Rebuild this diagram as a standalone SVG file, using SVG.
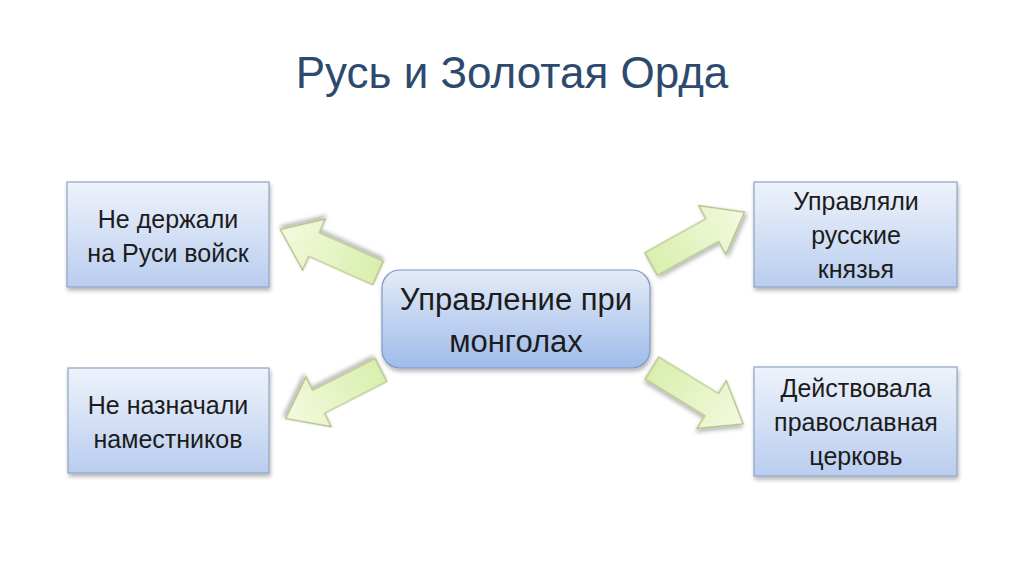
<svg xmlns="http://www.w3.org/2000/svg" width="1024" height="574" viewBox="0 0 1024 574">
<defs>
<linearGradient id="boxg" x1="0" y1="0" x2="0" y2="1">
<stop offset="0" stop-color="#eef3fb"/>
<stop offset="1" stop-color="#b9cdef"/>
</linearGradient>
<linearGradient id="cg" x1="0" y1="0" x2="0" y2="1">
<stop offset="0" stop-color="#e3ebf8"/>
<stop offset="1" stop-color="#9fbbea"/>
</linearGradient>
<linearGradient id="ag" x1="0" y1="0" x2="1" y2="0">
<stop offset="0" stop-color="#d9efae"/>
<stop offset="1" stop-color="#f3fadf"/>
</linearGradient>
<filter id="sh" x="-10%" y="-10%" width="120%" height="130%">
<feGaussianBlur in="SourceAlpha" stdDeviation="2"/>
<feOffset dx="1" dy="3"/>
<feComponentTransfer><feFuncA type="linear" slope="0.3"/></feComponentTransfer>
<feMerge><feMergeNode/><feMergeNode in="SourceGraphic"/></feMerge>
</filter>
<path id="arr" d="M0,-13 L70,-13 L70,-28 L107,0 L70,28 L70,13 L0,13 Z"/>
</defs>
<style>
.box{fill:url(#boxg);stroke:#8fa3c3;stroke-width:1.2;filter:url(#sh)}
.cbox{fill:url(#cg);stroke:#7f98c4;stroke-width:1.2;filter:url(#sh)}
.t{font-family:"Liberation Sans","Open Sans",sans-serif;font-size:25px;fill:#1c1c1c;text-anchor:middle}
.ct{font-family:"Liberation Sans","Open Sans",sans-serif;font-size:31px;fill:#1c1c1c;text-anchor:middle}
.title{font-family:"Liberation Sans","Open Sans",sans-serif;font-size:44px;fill:#2d4a6e;text-anchor:middle}
.a{fill:url(#ag);stroke:#aab978;stroke-width:1.2;filter:url(#sh)}
</style>
<rect width="1024" height="574" fill="#ffffff"/>
<text class="title" x="512" y="88">Русь и Золотая Орда</text>
<g id="connectors">
<use href="#arr" class="a" transform="translate(378,273) rotate(204)"/>
<use href="#arr" class="a" transform="translate(651,264) rotate(-29)"/>
<use href="#arr" class="a" transform="translate(381,370) rotate(153)"/>
<use href="#arr" class="a" transform="translate(652,368) rotate(31.5)"/>
</g>
<g id="center">
<rect class="cbox" x="382" y="270" width="268" height="98" rx="18"/>
<text class="ct" x="516" y="310">Управление при</text>
<text class="ct" x="516" y="352">монголах</text>
</g>
<g id="n1">
<rect class="box" x="67" y="182" width="202" height="105"/>
<text class="t" x="168" y="228">Не держали</text>
<text class="t" x="168" y="262">на Руси войск</text>
</g>
<g id="n2">
<rect class="box" x="68" y="368" width="201" height="105"/>
<text class="t" x="168" y="414">Не назначали</text>
<text class="t" x="168" y="448">наместников</text>
</g>
<g id="n3">
<rect class="box" x="754" y="182" width="203" height="105"/>
<text class="t" x="856" y="210">Управляли</text>
<text class="t" x="856" y="244">русские</text>
<text class="t" x="856" y="278">князья</text>
</g>
<g id="n4">
<rect class="box" x="754" y="367" width="203" height="109"/>
<text class="t" x="856" y="397">Действовала</text>
<text class="t" x="856" y="431">православная</text>
<text class="t" x="856" y="465">церковь</text>
</g>
</svg>
